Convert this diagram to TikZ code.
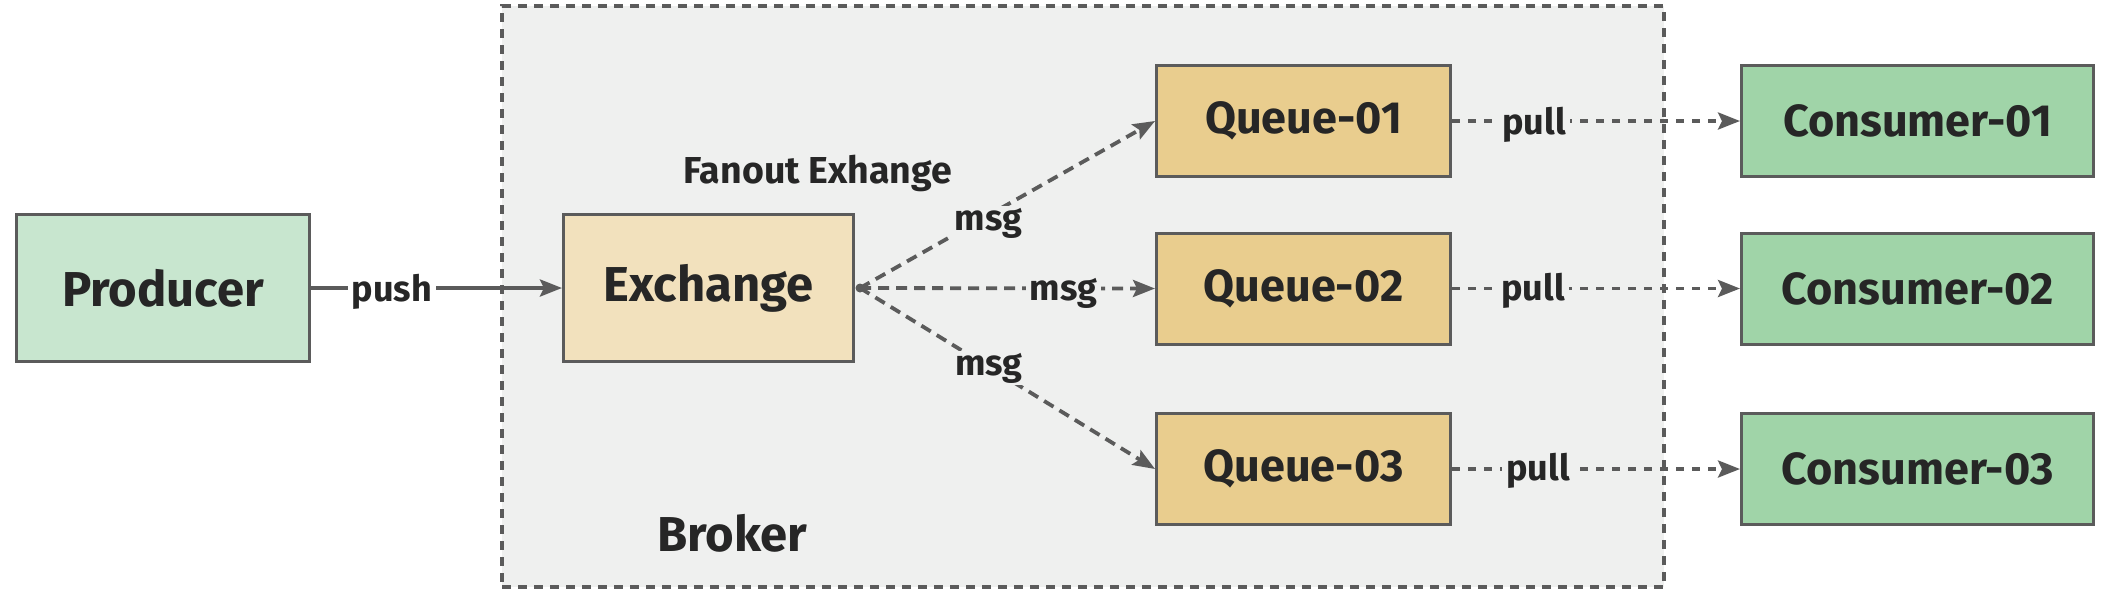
\documentclass[tikz,border=0pt]{standalone}
\usepackage{fontspec}
\setmainfont{Fira Sans}
\usetikzlibrary{arrows.meta}
\definecolor{edge}{HTML}{5B5B5B}
\definecolor{txt}{HTML}{262626}
\definecolor{brk}{HTML}{EFF0EF}
\definecolor{prodfill}{HTML}{C8E6CF}
\definecolor{exfill}{HTML}{F2E1BD}
\definecolor{qfill}{HTML}{E9CD8E}
\definecolor{cfill}{HTML}{A0D4A8}
\begin{document}
\begin{tikzpicture}[x=1pt,y=-1pt,
  box/.style={draw=edge, line width=3pt, inner sep=0pt, text=txt,
    font=\fontsize{49}{53}\selectfont\bfseries},
  qbox/.style={box, fill=qfill, minimum width=294pt, minimum height=111pt,
    font=\fontsize{45}{50}\selectfont\bfseries},
  cbox/.style={box, fill=cfill, minimum width=352pt, minimum height=111pt,
    font=\fontsize{45}{50}\selectfont\bfseries},
  lbl/.style={font=\fontsize{36}{40}\selectfont\bfseries, text=txt,
    inner xsep=4pt, inner ysep=2pt, anchor=base},
  conn/.style={draw=edge, line width=3.8pt,
    -{Stealth[length=22pt,width=17pt,inset=4pt]}},
  msgline/.style={conn, dash pattern=on 11pt off 7pt},
  pullline/.style={conn, dash pattern=on 8pt off 8pt}]
\useasboundingbox (0,0) rectangle (2114,590);
\fill[white] (0,0) rectangle (2114,590);
% broker container
\node[draw=edge, fill=brk, line width=3.6pt, dash pattern=on 9pt off 7pt,
  minimum width=1162pt, minimum height=581pt, inner sep=0pt] (broker) at (1083,296.5) {};
% nodes
\node[box, fill=prodfill, minimum width=293pt, minimum height=147pt] (prod) at (163,288) {Producer};
\node[box, fill=exfill, minimum width=290pt, minimum height=147pt] (ex) at (708.5,288) {Exchange};
\node[qbox] (q1) at (1303.5,121) {Queue-01};
\node[qbox] (q2) at (1303.5,288.5) {Queue-02};
\node[qbox] (q3) at (1303.5,469) {Queue-03};
\node[cbox] (c1) at (1917.5,121) {Consumer-01};
\node[cbox] (c2) at (1917.5,288.5) {Consumer-02};
\node[cbox] (c3) at (1917.5,469) {Consumer-03};
% connectors
\draw[conn] (prod.east) -- (ex.west);
\coordinate (fan) at ([xshift=5pt]ex.east);
\draw[msgline] (fan) -- (q1.west);
\draw[msgline] (fan) -- (q2.west);
\draw[msgline] (fan) -- (q3.west);
\fill[edge] (fan) circle (4.5pt);
\draw[pullline] (q1.east) -- (c1.west);
\draw[pullline] (q2.east) -- (c2.west);
\draw[pullline] (q3.east) -- (c3.west);
% labels
\node[lbl, fill=white] (push) at (392,301) {push};
\node[lbl, fill=brk] (m1) at (988.5,230) {msg};
\node[lbl, fill=brk] (m2) at (1063.5,300) {msg};
\node[lbl, fill=brk] (m3) at (989,375) {msg};
\node[lbl, fill=brk] (p1) at (1534,134) {pull};
\node[lbl, fill=brk] (p2) at (1533,300) {pull};
\node[lbl, fill=brk] (p3) at (1538,480) {pull};
\node[lbl, font=\fontsize{37.5}{42}\selectfont\bfseries] (fanout) at (818,183) {Fanout Exhange};
\node[lbl, font=\fontsize{49}{53}\selectfont\bfseries] (brlabel) at (732.5,551) {Broker};
\end{tikzpicture}
\end{document}
